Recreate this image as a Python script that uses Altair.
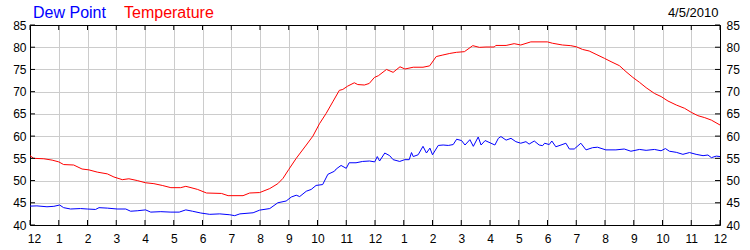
import altair as alt
import pandas as pd

# ---- data (hour of day 0..24, degrees F) ----
temp_hours = [0.0, 0.13, 0.48, 0.77, 1.0, 1.17, 1.52, 1.81, 2.05, 2.34, 2.69, 2.92, 3.21, 3.44, 3.73,
              4.02, 4.31, 4.6, 4.9, 5.24, 5.42, 5.6, 5.83, 6.14, 6.66, 6.89, 7.41, 7.64, 7.99, 8.34,
              8.62, 8.8, 9.0, 9.26, 9.61, 9.84, 10.07, 10.3, 10.53, 10.76, 10.88, 11.05, 11.28, 11.4,
              11.63, 11.8, 11.98, 12.12, 12.4, 12.63, 12.87, 13.04, 13.33, 13.67, 13.9, 14.13, 14.36,
              14.6, 14.83, 15.11, 15.4, 15.63, 15.86, 16.15, 16.2, 16.56, 16.84, 17.07, 17.42, 18.0,
              18.17, 18.52, 18.81, 19.0, 19.22, 19.45, 19.69, 19.98, 20.21, 20.5, 20.73, 20.97, 21.2,
              21.43, 21.72, 21.95, 22.19, 22.48, 22.77, 23.0, 23.23, 23.47, 23.7, 24.0]
temp_values = [55.6, 55.0, 54.9, 54.6, 54.2, 53.6, 53.5, 52.6, 52.4, 51.9, 51.5, 50.8, 50.2, 50.4, 50.0,
               49.5, 49.3, 48.9, 48.4, 48.4, 48.7, 48.4, 48.0, 47.2, 47.1, 46.6, 46.6, 47.2, 47.3, 48.2,
               49.3, 50.5, 52.5, 55.0, 58.0, 60.0, 62.8, 65.1, 67.7, 70.3, 70.5, 71.25, 72.0, 71.6,
               71.5, 71.85, 73.2, 73.6, 75.0, 74.35, 75.6, 75.1, 75.5, 75.5, 75.8, 77.9, 78.25,
               78.6, 78.85, 79.0, 80.35, 79.97, 80.05, 80.05, 80.4, 80.4, 80.8, 80.5, 81.2, 81.2,
               80.9, 80.5, 80.35, 80.1, 79.5, 79.15, 78.4, 77.5, 76.75, 75.85, 74.5, 73.2, 72.1,
               70.9, 69.6, 68.9, 67.9, 67.0, 66.25, 65.35, 64.6, 64.15, 63.6, 62.5]

dew_hours = [0.0, 0.24, 0.59, 0.83, 1.03, 1.17, 1.41, 1.76, 1.99, 2.28, 2.4, 2.69, 3.03, 3.33, 3.5,
             3.73, 4.02, 4.2, 4.55, 4.9, 5.19, 5.42, 5.65, 5.94, 6.25, 6.6, 6.95, 7.12, 7.3, 7.76,
             7.99, 8.34, 8.62, 8.91, 9.09, 9.26, 9.38, 9.61, 9.78, 9.95, 10.18, 10.36, 10.59, 10.65,
             10.82, 11.0, 11.1, 11.34, 11.57, 11.81, 11.99, 12.08, 12.16, 12.34, 12.51, 12.63, 12.86,
             13.03, 13.19, 13.27, 13.33, 13.5, 13.67, 13.79, 13.91, 14.0, 14.2, 14.37, 14.55, 14.72,
             14.84, 15.01, 15.13, 15.3, 15.42, 15.59, 15.69, 15.83, 16.0, 16.17, 16.29, 16.38, 16.56,
             16.73, 16.9, 17.07, 17.25, 17.36, 17.54, 17.71, 17.83, 17.9, 18.06, 18.15, 18.29, 18.47,
             18.64, 18.76, 18.93, 19.16, 19.34, 19.57, 19.74, 20.03, 20.38, 20.67, 20.9, 21.2, 21.43,
             21.72, 21.95, 22.1, 22.24, 22.48, 22.71, 22.94, 23.17, 23.41, 23.58, 23.7, 23.87, 24.0]
dew_values = [44.25, 44.3, 44.1, 44.2, 44.5, 43.9, 43.6, 43.7, 43.6, 43.5, 43.9, 43.8, 43.6, 43.6, 43.1,
              43.2, 43.4, 42.9, 43.0, 42.9, 42.9, 43.4, 43.1, 42.7, 42.4, 42.5, 42.3, 42.1, 42.5, 42.75,
              43.35, 43.7, 45.0, 45.4, 46.3, 46.7, 46.4, 47.6, 48.0, 48.9, 49.1, 51.4, 52.1, 52.6,
              53.4, 52.75, 54.0, 54.0, 54.3, 54.4, 54.2, 55.4, 54.4, 56.2, 55.6, 54.7, 54.3,
              54.7, 54.7, 56.3, 55.4, 55.8, 57.7, 56.2, 57.3, 55.8, 57.9, 58.0, 57.9, 58.1,
              59.3, 59.0, 58.0, 59.2, 57.7, 59.8, 58.0, 59.0, 58.5, 58.0, 59.5, 59.9, 59.1,
              59.5, 58.75, 58.4, 58.75, 58.2, 58.9, 58.0, 57.85, 58.4, 58.1, 58.9, 57.6, 58.0,
              58.4, 57.1, 57.1, 58.4, 56.9, 57.4, 57.5, 56.9, 56.9, 57.1, 56.6, 57.0, 56.8,
              57.0, 56.7, 57.2, 56.6, 56.35, 55.9, 56.3, 55.9, 55.6, 55.75, 55.15, 55.5, 55.4]

hour_ticks = list(range(25))
value_ticks = [40, 45, 50, 55, 60, 65, 70, 75, 80, 85]
series_names = ["Dew Point", "Temperature"]
date_label = "4/5/2010"

FONT = "Liberation Sans"
W, H = 690, 200

temp_df = pd.DataFrame({"hour": temp_hours, "value": temp_values})
dew_df = pd.DataFrame({"hour": dew_hours, "value": dew_values})
hours_df = pd.DataFrame({"hour": hour_ticks})
vals_df = pd.DataFrame({"value": value_ticks})

xs = alt.Scale(domain=[0, 24], nice=False, zero=False)
ys = alt.Scale(domain=[40, 85], nice=False, zero=False)

label_expr = "datum.value % 12 == 0 ? '12' : '' + (datum.value % 12)"

temp_line = alt.Chart(temp_df).mark_line(color="#ff0000", strokeWidth=1).encode(
    x=alt.X("hour:Q", scale=xs, axis=alt.Axis(
        orient="bottom", values=hour_ticks, labelExpr=label_expr, title=None,
        grid=True, gridColor="#cccccc", gridWidth=1, ticks=False, tickSize=0,
        domain=True, domainColor="#000000", domainWidth=1,
        labelFont=FONT, labelFontSize=12, labelColor="#000000", labelPadding=8,
        labelFlush=False, labelOverlap=False,
        labelOffset={"condition": {"test": "datum.value == 0", "value": 4}, "value": 0})),
    y=alt.Y("value:Q", scale=ys, axis=alt.Axis(
        orient="left", values=value_ticks, title=None,
        grid=True, gridColor="#cccccc", gridWidth=1, ticks=False, tickSize=0,
        domain=True, domainColor="#000000", domainWidth=1,
        labelFont=FONT, labelFontSize=12, labelColor="#000000", labelPadding=4,
        labelOverlap=False)),
)

dew_line = alt.Chart(dew_df).mark_line(color="#0000ff", strokeWidth=1).encode(
    x=alt.X("hour:Q", scale=xs, axis=alt.Axis(
        orient="top", values=hour_ticks, labels=False, title=None, grid=False,
        ticks=False, tickSize=0, domain=True, domainColor="#000000", domainWidth=1)),
    y=alt.Y("value:Q", scale=ys, axis=alt.Axis(
        orient="right", values=value_ticks, title=None, grid=False,
        ticks=False, tickSize=0, domain=True, domainColor="#000000", domainWidth=1,
        labelFont=FONT, labelFontSize=12, labelColor="#000000", labelPadding=6,
        labelOverlap=False)),
)

tick_style = dict(color="#000000", strokeWidth=1)
top_ticks = alt.Chart(hours_df).mark_rule(**tick_style).encode(
    x=alt.X("hour:Q", scale=xs, axis=None), y=alt.value(0), y2=alt.value(5))
bottom_ticks = alt.Chart(hours_df).mark_rule(**tick_style).encode(
    x=alt.X("hour:Q", scale=xs, axis=None), y=alt.value(H), y2=alt.value(H - 5))
left_ticks = alt.Chart(vals_df).mark_rule(**tick_style).encode(
    y=alt.Y("value:Q", scale=ys, axis=None), x=alt.value(0), x2=alt.value(5))
right_ticks = alt.Chart(vals_df).mark_rule(**tick_style).encode(
    y=alt.Y("value:Q", scale=ys, axis=None), x=alt.value(W), x2=alt.value(W - 5))

dew_title = alt.Chart(pd.DataFrame({"t": [series_names[0]]})).mark_text(
    font=FONT, fontSize=16, color="#0000ff", align="left", baseline="alphabetic"
).encode(text="t:N", x=alt.value(3), y=alt.value(-7.5))
temp_title = alt.Chart(pd.DataFrame({"t": [series_names[1]]})).mark_text(
    font=FONT, fontSize=16, color="#ff0000", align="left", baseline="alphabetic"
).encode(text="t:N", x=alt.value(94), y=alt.value(-7.5))
date_text = alt.Chart(pd.DataFrame({"t": [date_label]})).mark_text(
    font=FONT, fontSize=13, color="#000000", align="right", baseline="alphabetic"
).encode(text="t:N", x=alt.value(688.5), y=alt.value(-8.3))

chart = alt.layer(
    temp_line, dew_line, top_ticks, bottom_ticks, left_ticks, right_ticks,
    dew_title, temp_title, date_text
).resolve_axis(x="independent", y="independent").properties(
    width=W, height=H,
    autosize=alt.AutoSizeParams(type="none"),
    padding={"left": 30, "top": 25, "right": 30, "bottom": 25},
).configure_view(stroke=None).configure(background="#ffffff")

chart.save("out.html", embed_options={"renderer": "svg", "actions": False})
